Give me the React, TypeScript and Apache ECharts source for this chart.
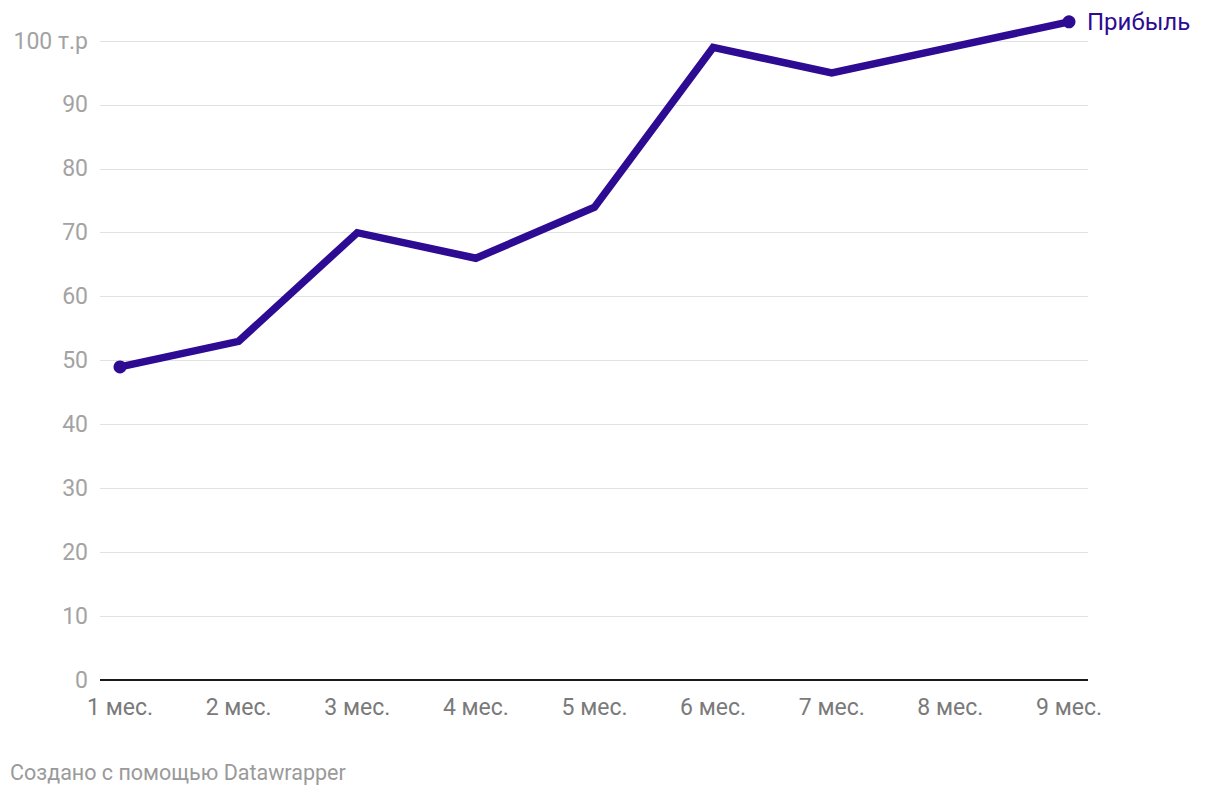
import React, { useEffect, useRef } from "react";
import * as echarts from "echarts";

const categories = ["1 мес.", "2 мес.", "3 мес.", "4 мес.", "5 мес.", "6 мес.", "7 мес.", "8 мес.", "9 мес."];
const profit = [49, 53, 70, 66, 74, 99, 95, 99, 103];
const seriesName = "Прибыль";
const credit = "Создано с помощью Datawrapper";

export default function App() {
  const ref = useRef<HTMLDivElement>(null);
  useEffect(() => {
    if (!ref.current) return;
    const chart = echarts.init(ref.current, null, { renderer: "svg" });
    const last = profit.length - 1;
    const xMin = 1 - 20 / 118.6;
    const xMax = 9 + 19 / 118.6;
    const data = profit.map((v, i) => ({
      value: [i + 1, v],
      symbol: i === 0 || i === last ? "circle" : "none",
    }));
    chart.setOption({
      animation: false,
      textStyle: { fontFamily: "Roboto" },
      grid: { left: 100, right: 132, top: 41, bottom: 116, containLabel: false },
      xAxis: {
        type: "value",
        min: xMin,
        max: xMax,
        axisLine: { show: false },
        axisTick: { show: false },
        splitLine: { show: false },
        axisLabel: {
          customValues: categories.map((_, i) => i + 1),
          formatter: (v: number) => categories[Math.round(v) - 1] ?? "",
          color: "#7a7a7a",
          fontSize: 23,
          margin: 16,
          fontFamily: "Roboto",
        },
      },
      yAxis: {
        type: "value",
        min: 0,
        max: 100,
        interval: 10,
        axisLine: { show: false },
        axisTick: { show: false },
        splitLine: { lineStyle: { color: "#e2e2e2", width: 1 } },
        axisLabel: {
          formatter: (v: number) => (v === 100 ? "100 т.р" : String(v)),
          color: "#a3a3a3",
          fontSize: 23,
          margin: 12,
          fontFamily: "Roboto",
        },
      },
      graphic: [
        {
          type: "text",
          left: 10,
          top: 761,
          style: { text: credit, fill: "#9a9a9a", font: "21.5px Roboto" },
        },
      ],
      series: [
        {
          type: "line",
          name: "zero",
          data: [[xMin, 0], [xMax, 0]],
          symbol: "none",
          lineStyle: { color: "#1a1a1a", width: 2 },
          silent: true,
          z: 1,
        },
        {
          type: "line",
          name: seriesName,
          data,
          clip: false,
          symbolSize: 13,
          itemStyle: { color: "#2d0b92" },
          lineStyle: { color: "#2d0b92", width: 7.5, join: "miter" },
          endLabel: {
            show: true,
            formatter: seriesName,
            color: "#2d0b92",
            fontSize: 24,
            distance: 18,
            fontFamily: "Roboto",
          },
          z: 3,
        },
      ],
    });
    return () => chart.dispose();
  }, []);
  return (
    <div
      ref={ref}
      style={{ position: "absolute", left: 0, top: 0, width: 1220, height: 796, background: "#fff" }}
    />
  );
}
